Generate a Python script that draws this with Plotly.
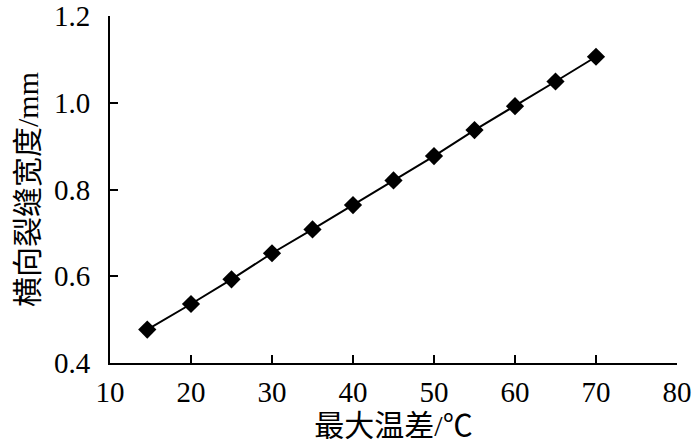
import plotly.graph_objects as go

# 最大温差 (℃) vs 横向裂缝宽度 (mm)
temp_diff = [14.6, 20, 25, 30, 35, 40, 45, 50, 55, 60, 65, 70]
crack_width = [0.477, 0.536, 0.593, 0.653, 0.708, 0.764, 0.821, 0.877, 0.937, 0.992, 1.049, 1.106]

x_ticks = [10, 20, 30, 40, 50, 60, 70, 80]
y_ticks = [0.4, 0.6, 0.8, 1.0, 1.2]

font_fam = "Liberation Serif, Noto Sans CJK SC"

fig = go.Figure()
fig.add_trace(go.Scatter(
    x=temp_diff, y=crack_width, mode="lines+markers",
    line=dict(color="black", width=2),
    marker=dict(symbol="diamond", size=14, color="black"),
    showlegend=False,
    cliponaxis=False,
))

fig.update_layout(
    width=699, height=448,
    margin=dict(l=110, r=22, t=16, b=85),
    plot_bgcolor="white", paper_bgcolor="white",
    font=dict(family=font_fam, size=29, color="black"),
)
fig.update_xaxes(
    range=[10, 80], tickvals=x_ticks, showgrid=False, zeroline=False,
    showline=True, linecolor="black", linewidth=2, automargin=False,
    ticks="inside", ticklen=8, tickwidth=1.5, tickcolor="black",
    title=dict(text="最大温差/℃", font=dict(size=30), standoff=8),
    ticklabelstandoff=2, ticklabeloverflow="allow",
)
fig.update_yaxes(
    range=[0.4, 1.2], tickvals=y_ticks, tickformat=".1f", showgrid=False, zeroline=False,
    showline=True, linecolor="black", linewidth=2, automargin=False,
    ticks="inside", ticklen=8, tickwidth=1.5, tickcolor="black",
    title=dict(text="横向裂缝宽度/mm", font=dict(size=30), standoff=6),
    ticklabelstandoff=12, ticklabeloverflow="allow",
)

# drop the default 8px page margin so the figure fills the window
fig.write_html("out.html", config={"displayModeBar": False},
               post_script="document.body.style.margin='0';")
